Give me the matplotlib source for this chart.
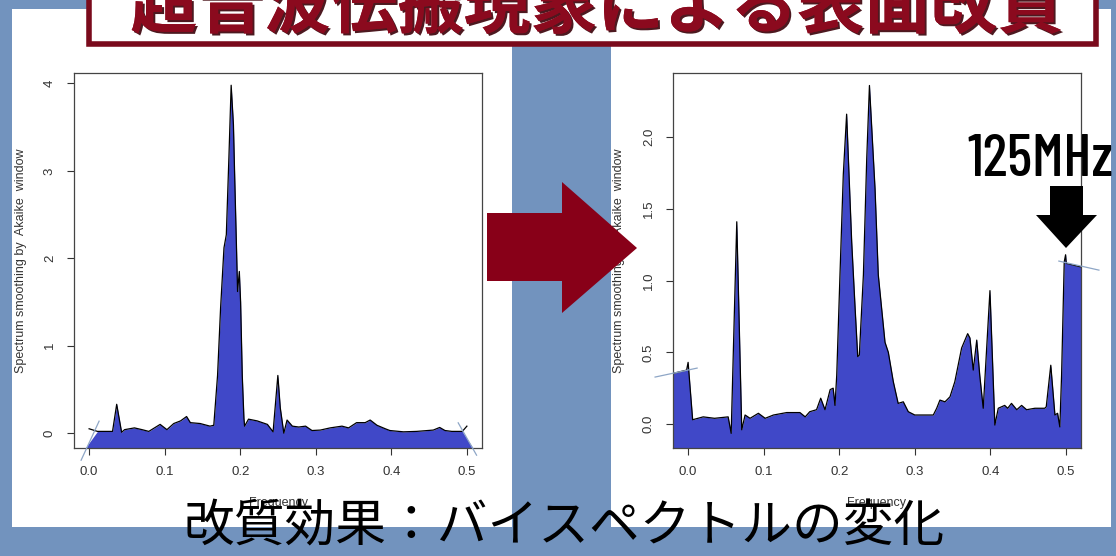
import matplotlib
matplotlib.use("Agg")
import matplotlib.pyplot as plt
from matplotlib import font_manager as fm
from matplotlib.patches import Rectangle, Polygon
import matplotlib.patheffects as pe

# spectrum before treatment
left_freq = [0.0, 0.011, 0.031, 0.0365, 0.043, 0.047, 0.060, 0.070, 0.079, 0.094,
             0.103, 0.112, 0.121, 0.129, 0.134, 0.147, 0.160, 0.165, 0.170, 0.174,
             0.1785, 0.1816, 0.185, 0.188, 0.191, 0.1926, 0.1953, 0.1965, 0.1988, 0.2005,
             0.2027, 0.2049, 0.2058, 0.211, 0.2225, 0.236, 0.2435, 0.2498, 0.253, 0.2577,
             0.262, 0.269, 0.2775, 0.2865, 0.295, 0.306, 0.319, 0.3347, 0.3434, 0.354,
             0.3654, 0.372, 0.381, 0.392, 0.398, 0.416, 0.4336, 0.4555, 0.464, 0.471,
             0.48, 0.491, 0.494, 0.5]
left_spec = [0.05, 0.02, 0.02, 0.33, 0.01, 0.04, 0.06, 0.04, 0.02, 0.10,
             0.04, 0.11, 0.14, 0.19, 0.12, 0.11, 0.08, 0.09, 0.66, 1.43,
             2.12, 2.27, 3.15, 3.98, 3.53, 2.96, 2.04, 1.62, 1.85, 1.50,
             0.66, 0.17, 0.08, 0.16, 0.14, 0.10, 0.015, 0.66, 0.29, 0.0,
             0.15, 0.08, 0.07, 0.08, 0.03, 0.035, 0.06, 0.08, 0.06, 0.12,
             0.12, 0.15, 0.09, 0.05, 0.03, 0.015, 0.02, 0.035, 0.065, 0.03,
             0.02, 0.02, 0.02, 0.08]
left_fill_ends = [-0.005, 0.508]
left_traces = [([-0.0106, 0.0132], [-0.31, 0.137]), ([0.4885, 0.5128], [0.118, -0.252])]

# spectrum after treatment
right_freq = [-0.02, -0.002, 0.0, 0.006, 0.02, 0.035, 0.053, 0.057, 0.0644, 0.071,
              0.0754, 0.082, 0.093, 0.102, 0.113, 0.1305, 0.148, 0.155, 0.161, 0.17,
              0.1755, 0.1812, 0.188, 0.192, 0.1944, 0.1967, 0.201, 0.2054, 0.2098, 0.2165,
              0.221, 0.2245, 0.2266, 0.232, 0.2364, 0.24, 0.2474, 0.2517, 0.2606, 0.265,
              0.2716, 0.278, 0.2848, 0.2914, 0.30, 0.3135, 0.3245, 0.329, 0.3333, 0.34,
              0.3466, 0.353, 0.362, 0.37, 0.373, 0.3774, 0.382, 0.386, 0.3906, 0.3995,
              0.406, 0.4105, 0.419, 0.423, 0.428, 0.435, 0.4414, 0.448, 0.459, 0.472,
              0.474, 0.48, 0.4855, 0.489, 0.492, 0.4943, 0.4978, 0.4996, 0.5005, 0.52]
right_spec = [0.353, 0.376, 0.43, 0.03, 0.05, 0.04, 0.05, -0.065, 1.41, -0.04,
              0.063, 0.04, 0.075, 0.04, 0.063, 0.08, 0.08, 0.05, 0.086, 0.10,
              0.18, 0.10, 0.24, 0.25, 0.13, 0.34, 1.04, 1.74, 2.16, 1.27,
              0.81, 0.47, 0.48, 1.04, 1.85, 2.36, 1.64, 1.04, 0.57, 0.50,
              0.295, 0.144, 0.155, 0.086, 0.063, 0.063, 0.063, 0.11, 0.167, 0.155,
              0.19, 0.295, 0.53, 0.63, 0.60, 0.376, 0.585, 0.34, 0.11, 0.93,
              -0.007, 0.11, 0.13, 0.11, 0.144, 0.10, 0.13, 0.10, 0.11, 0.11,
              0.12, 0.41, 0.063, 0.075, -0.02, 0.34, 1.13, 1.18, 1.12, 1.095]
right_traces = [([-0.0437, 0.0119], [0.3275, 0.39]), ([0.4907, 0.5437], [1.136, 1.073])]

x_ticks = [0.0, 0.1, 0.2, 0.3, 0.4, 0.5]
left_yticks = [0, 1, 2, 3, 4]
right_yticks = [0.0, 0.5, 1.0, 1.5, 2.0]

title = "超音波伝搬現象による表面改質"
caption = "改質効果：バイスペクトルの変化"
marker_text = "125MHz"
ylab = "Spectrum smoothing by  Akaike  window"

W, H = 1116, 556
BG = "#7293be"
FILL = "#4048c8"
WINE = "#880018"
CHART_FONT = ["Liberation Sans", "DejaVu Sans"]

fig = plt.figure(figsize=(W / 100, H / 100), dpi=100, facecolor=BG)
renderer = fig.canvas.get_renderer()


def weight_num(w):
    try:
        return int(w)
    except (TypeError, ValueError):
        return {"normal": 400, "regular": 400, "book": 400, "medium": 500,
                "semibold": 600, "demibold": 600, "bold": 700}.get(str(w).lower(), 400)


def marker_font(label, size, want_width):
    # pick the narrow face whose natural width at `size` is closest to want_width
    best = None
    seen = set()
    for f in fm.fontManager.ttflist:
        path = f.fname.lower()
        if f.fname in seen or "mono" in path or f.style != "normal":
            continue
        seen.add(f.fname)
        if not (400 <= weight_num(f.weight) <= 600):
            continue
        name = f.name.lower()
        if not ("narrow" in name or "condensed" in name or "condensed" in str(f.stretch)
                or "narrow" in path or "condensed" in path):
            continue
        props = fm.FontProperties(fname=f.fname, size=size)
        t = fig.text(0, 0, label, fontproperties=props)
        wdt = t.get_window_extent(renderer).width
        t.remove()
        score = abs(wdt - want_width) + abs(weight_num(f.weight) - 450) * 0.05
        if best is None or score < best[0]:
            best = (score, f.fname)
    if best is None:
        return fm.FontProperties(family=CHART_FONT, size=size)
    return fm.FontProperties(fname=best[1], size=size)


# pixel-space layer for the slide decoration
bg = fig.add_axes([0, 0, 1, 1], zorder=0)
bg.set_xlim(0, W)
bg.set_ylim(H, 0)
bg.axis("off")
bg.add_patch(Rectangle((12, 9), 500, 518, facecolor="white", edgecolor="none"))
bg.add_patch(Rectangle((611, 9), 500, 518, facecolor="white", edgecolor="none"))


def spectrum_axes(px_left, freq, spec, ylim, yticks, ytick_fmt, ylab_x, fill_x=None, traces=()):
    ax = fig.add_axes([px_left / W, (H - 448) / H, 408 / W, 375 / H], zorder=1)
    ax.set_facecolor("white")
    ax.set_xlim(-0.02, 0.52)
    ax.set_ylim(*ylim)
    if fill_x is None:
        fx = list(freq)
        fy = list(spec)
    else:
        fx = [fill_x[0]] + list(freq[1:-1]) + [fill_x[1]]
        fy = [ylim[0]] + list(spec[1:-1]) + [ylim[0]]
    ax.fill_between(fx, fy, ylim[0], color=FILL, linewidth=0)
    ax.plot(freq, spec, color="black", lw=0.9)
    for tx, ty in traces:
        ax.plot(tx, ty, color="#8ea6c6", lw=0.9, clip_on=False, zorder=5)
    ax.set_xticks(x_ticks)
    ax.set_xticklabels([f"{t:.1f}" for t in x_ticks], family=CHART_FONT)
    ax.set_yticks(yticks)
    ax.set_yticklabels([ytick_fmt(t) for t in yticks], family=CHART_FONT)
    ax.tick_params(direction="out", length=5, width=0.8, color="#333333",
                   labelcolor="#333333", labelsize=9.5, pad=8)
    ax.tick_params(axis="y", labelrotation=90)
    for lbl in ax.get_yticklabels():
        lbl.set_va("center")
    for s in ax.spines.values():
        s.set_color("#444444")
        s.set_linewidth(0.9)
    ax.set_xlabel("Frequency", fontsize=9, color="#333333", family=CHART_FONT)
    ax.xaxis.set_label_coords(0.5, -0.13)
    ax.set_ylabel(ylab, fontsize=9, color="#333333", family=CHART_FONT)
    ax.yaxis.set_label_coords(ylab_x, 0.5)
    return ax


ax1 = spectrum_axes(74, left_freq, left_spec, (-0.17, 4.12), left_yticks,
                    lambda t: f"{t:d}", -0.115, fill_x=left_fill_ends, traces=left_traces)
ax2 = spectrum_axes(673, right_freq, right_spec, (-0.167, 2.447), right_yticks,
                    lambda t: f"{t:.1f}", -0.118, traces=right_traces)

# overlay layer: title box, arrows, texts
top = fig.add_axes([0, 0, 1, 1], zorder=3)
top.set_xlim(0, W)
top.set_ylim(H, 0)
top.axis("off")
top.patch.set_alpha(0)

top.add_patch(Rectangle((89, -10), 1007, 54, facecolor="white", edgecolor="#7a0a1c", lw=4))
top.text(597, 8, title, ha="center", va="center", fontsize=48, color="#8b0a1e",
         fontweight="bold", family=["Noto Sans CJK JP", "DejaVu Sans"],
         path_effects=[pe.withSimplePatchShadow(offset=(1.5, -1.5), shadow_rgbFace="#3a0008", alpha=0.9),
                       pe.Normal()])

top.add_patch(Polygon([(487, 213), (562, 213), (562, 182), (637, 248), (562, 313),
                       (562, 281), (487, 281)], closed=True, facecolor=WINE, edgecolor="none"))

top.add_patch(Polygon([(1050, 186), (1083, 186), (1083, 215), (1097, 215), (1066, 248),
                       (1036, 215), (1050, 215)], closed=True, facecolor="black", edgecolor="none"))

# frequency marker label, sized to span the same width as in the slide
mprops = marker_font(marker_text, 43, 146)
mtext = top.text(1040, 160, marker_text, ha="center", va="center", color="black",
                 fontproperties=mprops)
span = mtext.get_window_extent(renderer).width
mtext.set_fontsize(mprops.get_size_in_points() * 146 / span)

top.text(564, 527, caption, ha="center", va="center", fontsize=36.5, color="black",
         family=["Noto Sans CJK JP", "DejaVu Sans"])

fig.savefig("out.png", dpi=100, facecolor=BG)
